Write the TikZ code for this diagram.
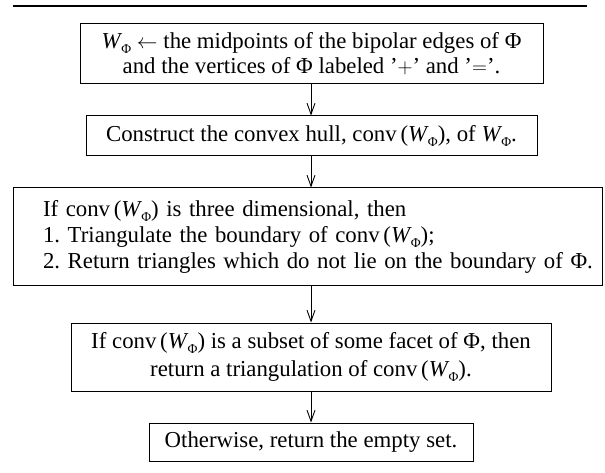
\documentclass[tikz,border=0pt]{standalone}
\usepackage{fontspec}
\setmainfont{Liberation Serif}
\usetikzlibrary{arrows.meta}
\newcommand\WP{\textit{W}\kern-0.04em\raisebox{-0.22em}{\fontsize{13.5}{13.5}\selectfont Φ}}
\newcommand\cv{conv\,(\WP)}
\tikzset{
  box/.style={draw, line width=1pt, inner sep=0pt, align=center},
  flow/.style={line width=0.9pt, -{Straight Barb[length=11pt,width=8pt,line width=0.9pt]}},
}
\begin{document}
\frenchspacing
\begin{tikzpicture}[x=1pt,y=-1pt,font=\fontsize{22.8}{25}\selectfont]
\useasboundingbox (0,0) rectangle (605,473);
\coordinate (rl) at (13,6);
\coordinate (rr) at (587,6);
\draw[line width=1.3pt] (rl) -- (rr);
\node[box, minimum width=463pt, minimum height=60pt] (b1) at (311.5,54)
  {\WP{} $\leftarrow$ the midpoints of the bipolar edges of Φ\\
   and the vertices of Φ labeled ’$+$’ and ’$=$’.};
\node[box, minimum width=451pt, minimum height=40pt] (b2) at (311.5,136)
  {Construct the convex hull, \cv, of \WP.};
\node[box, minimum width=589pt, minimum height=97pt, align=left, text width=589pt, inner xsep=0pt] (b3) at (307.5,236.5)
  {\hspace*{30pt}If \cv{} is three dimensional, then\\[1pt]
   \hspace*{30pt}1. Triangulate the boundary of \cv;\\[1pt]
   \hspace*{30pt}2. Return triangles which do not lie on the boundary of Φ.};
\node[box, minimum width=480pt, minimum height=68pt] (b4) at (311,357)
  {If \cv{} is a subset of some facet of Φ, then\\[3pt]
   return a triangulation of \cv.};
\node[box, minimum width=324pt, minimum height=38pt] (b5) at (311,442)
  {Otherwise, return the empty set.};
\draw[flow] (b1.south -| 311,0) -- (b2.north -| 311,0);
\draw[flow] (b2.south -| 311,0) -- (b3.north -| 311,0);
\draw[flow] (b3.south -| 311,0) -- (b4.north -| 311,0);
\draw[flow] (b4.south -| 311,0) -- (b5.north -| 311,0);
\end{tikzpicture}
\end{document}
